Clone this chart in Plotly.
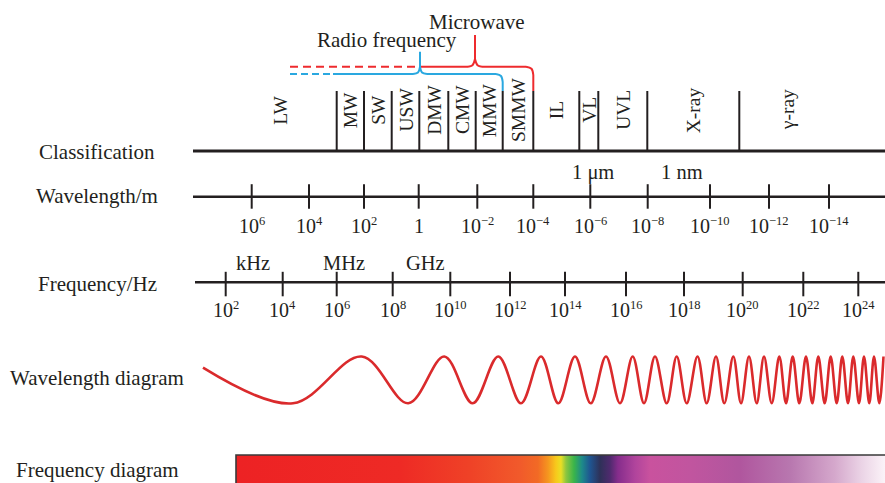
import plotly.graph_objects as go

# ---------------- data ----------------
class_names = ["LW", "MW", "SW", "USW", "DMW", "CMW", "MMW", "SMMW",
               "IL", "VL", "UVL", "X-ray", "γ-ray"]
class_bounds = [223, 336.7, 364, 391.7, 419.3, 448.3, 475.7, 502.7,
                533.3, 579.3, 598.3, 647.3, 739.3, 835]

wl_exponents = [6, 4, 2, 0, -2, -4, -6, -8, -10, -12, -14]
wl_tick_pos = [251.7, 309, 364, 418.7, 477.3, 533.3, 590.3, 647.7, 710, 769, 829]
wl_unit_labels = ["1 μm", "1 nm"]
wl_unit_pos = [593, 682]

fr_exponents = [2, 4, 6, 8, 10, 12, 14, 16, 18, 20, 22, 24]
fr_tick_pos = [225.7, 282.7, 336.7, 392.7, 450.3, 510, 565, 626, 684, 742.7, 803.3, 858.3]
fr_unit_labels = ["kHz", "MHz", "GHz"]
fr_unit_pos = [253, 344, 425]

row_labels = ["Classification", "Wavelength/m", "Frequency/Hz",
              "Wavelength diagram", "Frequency diagram"]
row_label_y = [152, 196, 284, 378, 470]

# wave extrema (peaks / troughs)
wave_x = [203, 293, 361.7, 408.3, 444.3, 472.7, 498.3, 521, 541, 558.3, 575, 590.7,
          606, 620, 632.7, 644, 655, 666.7, 676.7, 686.7, 697.5, 706.7, 716, 724.3,
          733.3, 741, 749, 756.7, 764, 771.7, 779.3, 786, 792.7, 799.3, 806, 812.3,
          818.3, 824.7, 830.7, 836.7, 842.3, 848, 853.3, 859, 864, 869.3, 874,
          879.3, 883.5]
wave_y = [367.7] + [403.3 if i % 2 == 0 else 356.5 for i in range(len(wave_x) - 1)]

spectrum_pos = [236, 400, 470, 520, 538, 548, 556, 561, 566, 574, 582, 590, 600,
                610, 618, 635, 650, 690, 740, 790, 835, 862, 885]
spectrum_colors = ["#ED2224", "#EE2A25", "#EF4227", "#F15A2B", "#F26A25", "#F5961F",
                   "#F7C91C", "#E9DF24", "#8DC63F", "#3AB54A", "#1D8A8A", "#1F5591",
                   "#2E3158", "#4F2A6E", "#862D8C", "#B0449C", "#C9529E", "#C1559F",
                   "#B0569E", "#B877AF", "#D5A8CC", "#EBD4E6", "#FBF3F8"]

# ---------------- styles ----------------
INK = "#231F20"
RED = "#EE2B2E"
BLUE = "#2AA8E0"
FONT = "Liberation Serif"

fig = go.Figure()


def power_label(e):
    if e == 0:
        return "1"
    s = str(e).replace("-", "−")
    return '10<sup><span style="font-size:12.5px">' + s + '</span></sup>'


def line(xs, ys, color=INK, width=2, dash=None, shape="linear"):
    fig.add_trace(go.Scatter(x=xs, y=ys, mode="lines", hoverinfo="skip",
                             showlegend=False,
                             line=dict(color=color, width=width, dash=dash, shape=shape)))


def text(x, y, s, size=21, angle=0, color=INK):
    fig.add_annotation(x=x, y=y, text=s, showarrow=False, textangle=angle,
                       font=dict(family=FONT, size=size, color=color),
                       xanchor="center", yanchor="middle")


# classification row
CL_Y, CL_TOP = 151, 91
line([193, 885], [CL_Y, CL_Y], width=3.2)
for b in class_bounds[1:-1]:
    line([b, b], [CL_TOP, CL_Y], width=2)
for i, name in enumerate(class_names):
    cx = (class_bounds[i] + class_bounds[i + 1]) / 2
    text(cx, 110, name, size=19.5, angle=-90)

# brackets: microwave (red) and radio frequency (blue)
line([290, 420], [66.7, 66.7], color=RED, width=2, dash="8px,5px")
line([420, 468], [66.7, 66.7], color=RED, width=2)
line([468, 472.5, 475], [66.7, 65.2, 59], color=RED, width=2, shape="spline")
line([475, 475], [59, 35], color=RED, width=2)
line([475, 477.5, 482], [59, 65.2, 66.7], color=RED, width=2, shape="spline")
line([482, 526], [66.7, 66.7], color=RED, width=2)
line([526, 531.5, 533.3], [66.7, 68.8, 75], color=RED, width=2, shape="spline")
line([533.3, 533.3], [75, 91], color=RED, width=2)

line([290, 333], [74, 74], color=BLUE, width=2, dash="7px,4px")
line([333, 413], [74, 74], color=BLUE, width=2)
line([413, 418, 420], [74, 72.5, 67], color=BLUE, width=2, shape="spline")
line([420, 420], [67, 51.7], color=BLUE, width=2)
line([420, 422, 427], [67, 72.5, 74], color=BLUE, width=2, shape="spline")
line([427, 496], [74, 74], color=BLUE, width=2)
line([496, 501, 502.7], [74, 76, 82], color=BLUE, width=2, shape="spline")
line([502.7, 502.7], [82, 91], color=BLUE, width=2)

text(476.7, 21.7, "Microwave")
text(387, 39.5, "Radio frequency")

# wavelength axis
WL_Y = 196.7
line([193, 885], [WL_Y, WL_Y], width=2.6)
for p, e in zip(wl_tick_pos, wl_exponents):
    line([p, p], [WL_Y - 12.5, WL_Y + 12], width=2)
    text(p, 225.5, power_label(e), size=20)
for p, lab in zip(wl_unit_pos, wl_unit_labels):
    text(p, 172, lab, size=20.5)

# frequency axis
FR_Y = 282.3
line([195, 885], [FR_Y, FR_Y], width=2.6)
for p, e in zip(fr_tick_pos, fr_exponents):
    line([p, p], [FR_Y - 10.5, FR_Y + 14], width=2)
    text(p, 309.5, power_label(e), size=20)
for p, lab in zip(fr_unit_pos, fr_unit_labels):
    text(p, 263, lab, size=20.5)

# wavelength diagram
line(wave_x, wave_y, color="#DA2A2C", width=2.6, shape="spline")

# frequency diagram (spectrum bar)
span = spectrum_pos[-1] - spectrum_pos[0]
cscale = [[(p - spectrum_pos[0]) / span, c] for p, c in zip(spectrum_pos, spectrum_colors)]
fig.add_trace(go.Scatter(
    x=[236, 885, 885, 236, 236], y=[455, 455, 484, 484, 455],
    mode="lines", fill="toself", hoverinfo="skip", showlegend=False,
    line=dict(width=0, color="rgba(0,0,0,0)"),
    fillgradient=dict(type="horizontal", colorscale=cscale,
                      start=spectrum_pos[0], stop=spectrum_pos[-1])))
line([236, 236, 885], [484, 455, 455], color="#3A3A3A", width=1.6)

# row labels
for s, y in zip(row_labels, row_label_y):
    text(97, y, s)

fig.update_layout(
    width=885, height=483,
    margin=dict(l=0, r=0, t=0, b=0),
    paper_bgcolor="white", plot_bgcolor="white",
    xaxis=dict(range=[0, 885], visible=False, fixedrange=True),
    yaxis=dict(range=[483, 0], visible=False, fixedrange=True),
    showlegend=False,
)

fig.write_html("out.html",
               config={"displayModeBar": False, "staticPlot": True},
               post_script="document.body.style.margin='0';"
                           "document.body.style.overflow='hidden';")
